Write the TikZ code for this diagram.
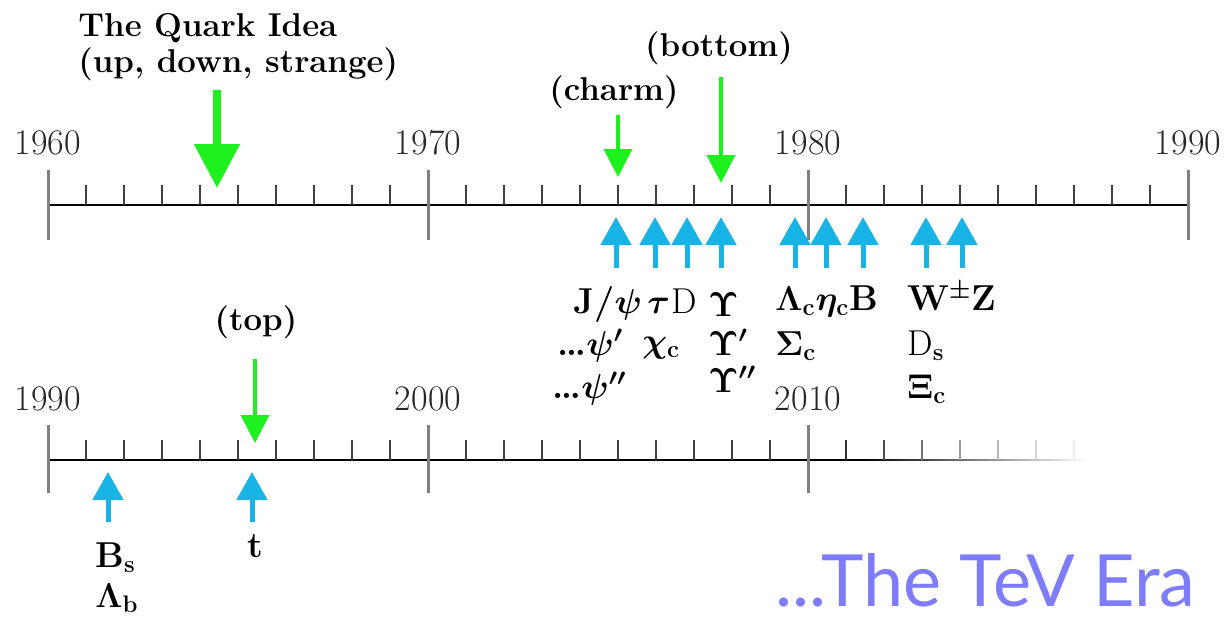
\documentclass[tikz,border=0pt]{standalone}
\usepackage{fontspec}
\newfontfamily\erafont{Lato}
\usetikzlibrary{arrows.meta, positioning}
\definecolor{quarkgreen}{RGB}{30,240,30}
\definecolor{partblue}{RGB}{25,180,230}
\definecolor{eraviolet}{RGB}{125,125,250}

\begin{document}
\begin{tikzpicture}[x=0.5pt, y=-0.5pt,
        yr/.style={font=\fontsize{18}{20}\selectfont, text=black!85, inner sep=0pt},
        hd/.style={font=\fontsize{16.5}{18}\selectfont\bfseries, inner sep=0pt, align=left},
        lbl/.style={font=\fontsize{18}{20}\selectfont\bfseries\boldmath, inner sep=0pt, anchor=base west},
        bigarr/.style={-{Triangle[length=22pt,width=22pt]}, line width=4pt, quarkgreen},
        garr/.style={-{Triangle[length=14pt,width=14pt]}, line width=2pt, quarkgreen},
        barr/.style={-{Triangle[length=14pt,width=15pt]}, line width=2.5pt, partblue},
        major/.style={line width=1.5pt, black!50},
        minor/.style={line width=1pt, black!75}]
      \useasboundingbox (0,0) rectangle (1228,621);

      % first time line, 1960--1990
      \draw[line width=1pt] (48,205) -- (1188,205);
      \foreach \yr [count=\d from 0] in {1960,1970,1980,1990} {
        \draw[major] ({48+380*\d},170) -- ({48+380*\d},240);
        \node[yr] (y\yr) at ({48+380*\d},143) {\yr};
      }
      \foreach \d in {0,1,2}
        \foreach \i in {1,...,9}
          \draw[minor] ({48+380*\d+38*\i},185) -- ++(0,20);

      % second time line, 1990--2010 and fading out
      \draw[line width=1pt] (48,460) -- (860,460);
      \foreach \s in {0,...,44}
        \draw[line width=1pt, black!\fpeval{100-2.2*\s}] ({860+5*\s},460) -- ++(5.5,0);
      \foreach \yr [count=\d from 0] in {1990,2000,2010} {
        \draw[major] ({48+380*\d},425) -- ({48+380*\d},493);
        \node[yr] (z\yr) at ({48+380*\d},399) {\yr};
      }
      \foreach \d in {0,1}
        \foreach \i in {1,...,9}
          \draw[minor] ({48+380*\d+38*\i},440) -- ++(0,20);
      \draw[minor] (770,440) -- ++(0,20);
      \foreach \i/\c in {1/80,2/70,3/55,4/40,5/28,6/16,7/7}
        \draw[minor, black!\c] ({808+38*\i},440) -- ++(0,20);

      % quarks
      \node[hd, anchor=north west] (quark) at (78,13) {The Quark Idea\\(up, down, strange)};
      \node[hd] (charm) at (614,92) {(charm)};
      \node[hd] (bottom) at (719,48) {(bottom)};
      \node[hd] (top) at (256,322) {(top)};
      \coordinate (qtip) at (217,188);
      \coordinate (ctip) at (618,177);
      \coordinate (btip) at (721,183);
      \coordinate (ttip) at (255,443);
      \draw[bigarr] ([yshift=-4.5pt]quark.south -| qtip) -- (qtip);
      \draw[garr] ([yshift=-3pt]charm.south -| ctip) -- (ctip);
      \draw[garr] ([yshift=-6pt]bottom.south -| btip) -- (btip);
      \draw[garr] ([yshift=-10pt]top.south -| ttip) -- (ttip);

      % discoveries
      \foreach \x [count=\n] in {616,655,687,721,795,826,863,926,962} {
        \coordinate (ub\n) at (\x,268);
        \coordinate (ut\n) at (\x,217);
        \draw[barr] (ub\n) -- (ut\n);
      }
      \foreach \x [count=\n] in {108,252} {
        \coordinate (vb\n) at (\x,522);
        \coordinate (vt\n) at (\x,472);
        \draw[barr] (vb\n) -- (vt\n);
      }

      \node[lbl] (jpsi) at (573,313) {J/$\psi$};
      \node[lbl] (tau) at (647,313) {$\tau$};
      \node[lbl] (dmes) at (671,313) {\mdseries D};
      \node[lbl] (ups) at (708,316) {$\Upsilon$};
      \node[lbl] (psi2) at (557,355) {\ldots$\psi'$};
      \node[lbl] (chic) at (642,352) {$\chi_\mathbf{c}$};
      \node[lbl] (ups2) at (708,355) {$\Upsilon'$};
      \node[lbl] (psi3) at (552,398) {\ldots$\psi''$};
      \node[lbl] (ups3) at (708,392) {$\Upsilon''$};
      \node[lbl] (lamc) at (775,310) {$\Lambda_\mathbf{c}\eta_\mathbf{c}$B};
      \node[lbl] (sigc) at (775,355) {$\Sigma_\mathbf{c}$};
      \node[lbl] (wz) at (907,310) {W$^\pm$Z};
      \node[lbl] (ds) at (907,355) {\mdseries D$_\mathbf{s}$};
      \node[lbl] (xic) at (907,398) {$\Xi_\mathbf{c}$};
      \node[lbl] (bs) at (95,567) {B$_\mathbf{s}$};
      \node[lbl] (lamb) at (95,607) {$\Lambda_\mathbf{b}$};
      \node[lbl, anchor=base] (tq) at (255,557) {t};

      \node[font=\erafont\fontsize{36}{38}\selectfont, text=eraviolet, inner sep=0pt,
            anchor=base west] (era) at (775,606) {...The TeV Era};
    \end{tikzpicture}
\end{document}
